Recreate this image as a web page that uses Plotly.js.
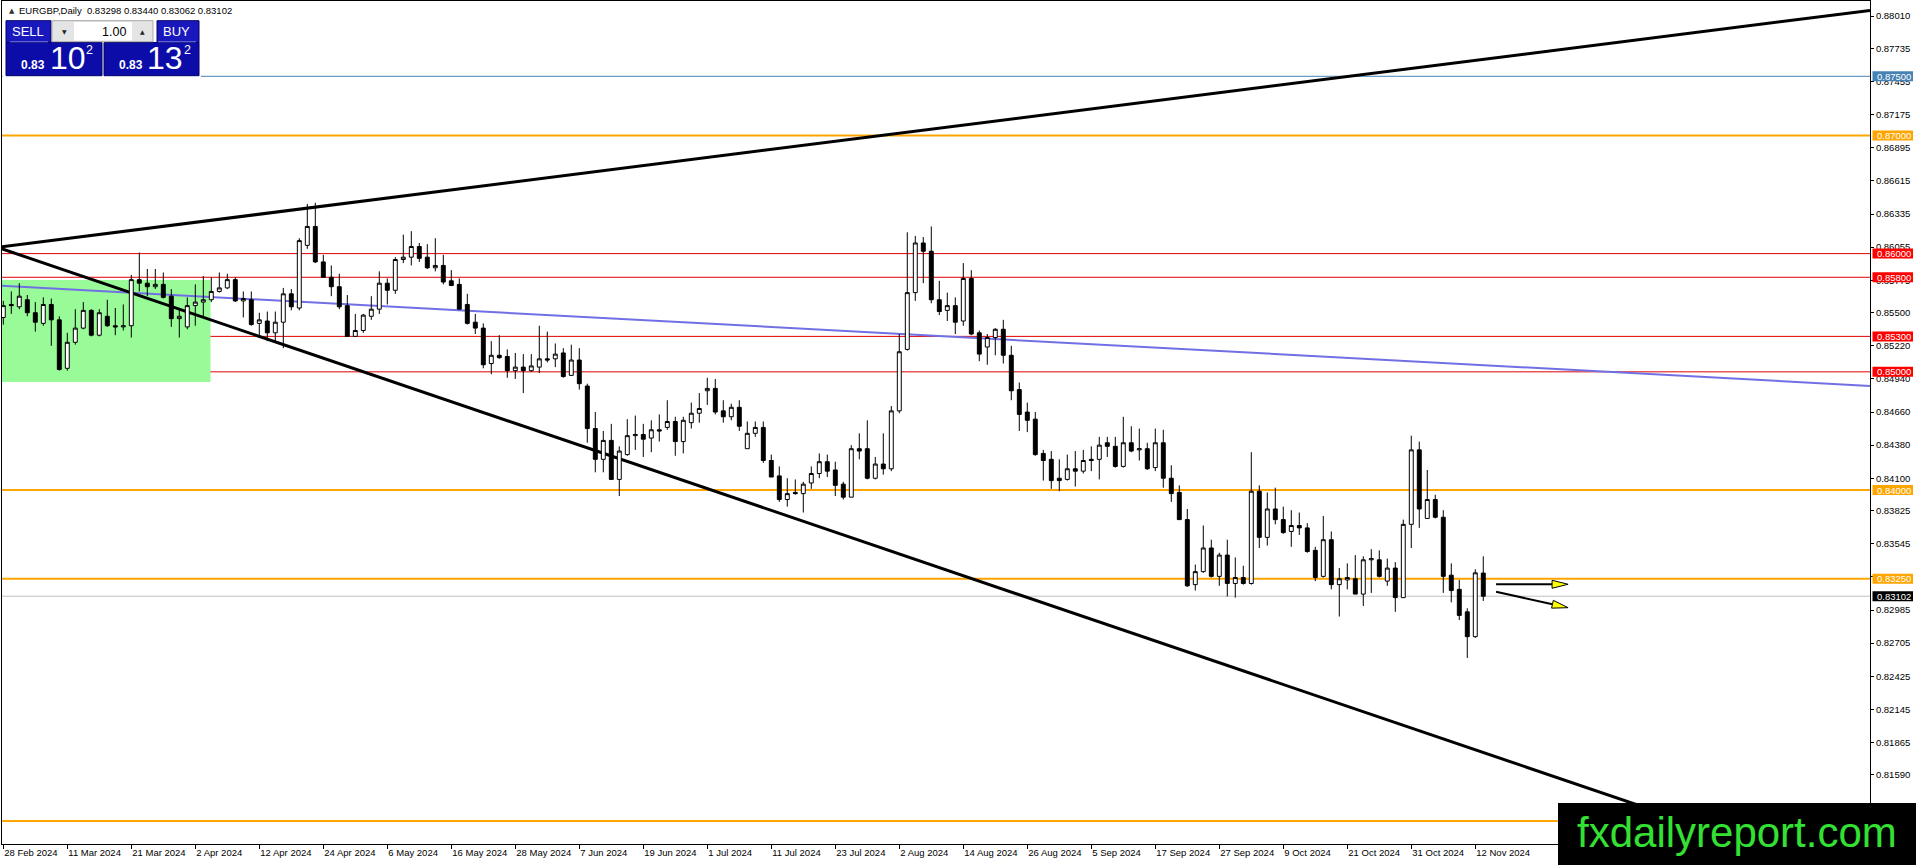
<!DOCTYPE html>
<html>
<head>
<meta charset="utf-8">
<script src="https://cdn.plot.ly/plotly-3.0.1.min.js"></script>
<style>html,body{margin:0;padding:0;background:#fff;overflow:hidden}</style>
</head>
<body>
<div id="chart" style="width:1916px;height:865px"></div>
<script>
// ---------------- data ----------------
const symbolTitle = 'EURGBP,Daily';
const lastOHLC = [0.83298, 0.83440, 0.83062, 0.83102];
const tickLabels = ['28 Feb 2024','11 Mar 2024','21 Mar 2024','2 Apr 2024','12 Apr 2024','24 Apr 2024','6 May 2024','16 May 2024','28 May 2024','7 Jun 2024','19 Jun 2024','1 Jul 2024','11 Jul 2024','23 Jul 2024','2 Aug 2024','14 Aug 2024','26 Aug 2024','5 Sep 2024','17 Sep 2024','27 Sep 2024','9 Oct 2024','21 Oct 2024','31 Oct 2024','12 Nov 2024'];
const barsPerLabel = 8;

const openP = [0.8546,0.8557,0.8555,0.8561,0.8550,0.8541,0.8557,0.8544,0.8503,0.8525,
0.8537,0.8552,0.8531,0.8547,0.8539,0.8538,0.8539,0.8578,0.8575,0.8572,
0.8574,0.8564,0.8545,0.8538,0.8556,0.8559,0.8561,0.8568,0.8571,0.8578,
0.8560,0.8561,0.8541,0.8543,0.8533,0.8542,0.8566,0.8554,0.8607,0.8623,
0.8593,0.8580,0.8572,0.8556,0.8530,0.8535,0.8547,0.8553,0.8575,0.8569,
0.8595,0.8597,0.8606,0.8597,0.8588,0.8590,0.8577,0.8574,0.8557,0.8542,
0.8537,0.8507,0.8514,0.8513,0.8501,0.8504,0.8501,0.8504,0.8511,0.8511,
0.8516,0.8497,0.8510,0.8488,0.8452,0.8426,0.8442,0.8409,0.8430,0.8446,
0.8447,0.8444,0.8451,0.8453,0.8458,0.8441,0.8457,0.8465,0.8484,0.8486,
0.8467,0.8462,0.8470,0.8435,0.8448,0.8453,0.8425,0.8412,0.8392,0.8398,
0.8397,0.8406,0.8414,0.8424,0.8417,0.8405,0.8394,0.8435,0.8435,0.8410,
0.8422,0.8418,0.8467,0.8519,0.8567,0.8609,0.8602,0.8561,0.8552,0.8556,
0.8543,0.8579,0.8533,0.8521,0.8529,0.8536,0.8514,0.8485,0.8466,0.8460,
0.8431,0.8426,0.8410,0.8409,0.8418,0.8416,0.8426,0.8426,0.8440,0.8437,
0.8420,0.8440,0.8434,0.8435,0.8419,0.8440,0.8410,0.8398,0.8375,0.8320,
0.8331,0.8351,0.8327,0.8345,0.8321,0.8326,0.8321,0.8399,0.8360,0.8384,
0.8375,0.8365,0.8370,0.8368,0.8349,0.8327,0.8358,0.8320,0.8324,0.8325,
0.8312,0.8341,0.8341,0.8323,0.8334,0.8309,0.8371,0.8434,0.8376,0.8392,
0.8377,0.8328,0.8316,0.8297,0.8276,0.83298];

const highP = [0.8560,0.8568,0.8575,0.8565,0.8559,0.8563,0.8562,0.8547,0.8533,0.8553,
0.8559,0.8553,0.8553,0.8561,0.8554,0.8557,0.8582,0.8601,0.8587,0.8587,
0.8584,0.8570,0.8554,0.8563,0.8574,0.8581,0.8580,0.8584,0.8583,0.8580,
0.8568,0.8568,0.8550,0.8551,0.8551,0.8571,0.8570,0.8613,0.8642,0.8643,
0.8599,0.8590,0.8583,0.8565,0.8549,0.8549,0.8564,0.8585,0.8579,0.8597,
0.8616,0.8619,0.8609,0.8608,0.8613,0.8599,0.8586,0.8579,0.8566,0.8549,
0.8541,0.8526,0.8531,0.8519,0.8516,0.8515,0.8515,0.8539,0.8534,0.8524,
0.8520,0.8523,0.8520,0.8490,0.8466,0.8450,0.8456,0.8437,0.8460,0.8463,
0.8456,0.8459,0.8464,0.8476,0.8462,0.8462,0.8474,0.8482,0.8495,0.8494,
0.8476,0.8473,0.8476,0.8458,0.8458,0.8458,0.8430,0.8420,0.8410,0.8409,
0.8407,0.8420,0.8431,0.8430,0.8424,0.8407,0.8438,0.8448,0.8459,0.8428,
0.8448,0.8471,0.8532,0.8618,0.8615,0.8614,0.8623,0.8577,0.8567,0.8563,
0.8592,0.8586,0.8535,0.8532,0.8537,0.8544,0.8522,0.8491,0.8474,0.8466,
0.8434,0.8433,0.8426,0.8430,0.8433,0.8434,0.8437,0.8445,0.8445,0.8445,
0.8462,0.8454,0.8452,0.8440,0.8452,0.8451,0.8421,0.8404,0.8384,0.8337,
0.8370,0.8358,0.8347,0.8358,0.8343,0.8336,0.8432,0.8404,0.8398,0.8402,
0.8386,0.8383,0.8381,0.8372,0.8352,0.8378,0.8365,0.8334,0.8338,0.8345,
0.8344,0.8350,0.8349,0.8342,0.8339,0.8375,0.8446,0.8441,0.8417,0.8396,
0.8383,0.8338,0.8324,0.8300,0.8333,0.83440];

const lowP = [0.8540,0.8549,0.8553,0.8547,0.8534,0.8539,0.8522,0.8501,0.8501,0.8523,
0.8536,0.8530,0.8530,0.8538,0.8531,0.8535,0.8529,0.8568,0.8564,0.8570,
0.8562,0.8538,0.8529,0.8536,0.8539,0.8546,0.8559,0.8567,0.8570,0.8559,
0.8546,0.8539,0.8529,0.8526,0.8526,0.8520,0.8552,0.8552,0.8604,0.8592,
0.8580,0.8564,0.8553,0.8530,0.8530,0.8533,0.8544,0.8549,0.8557,0.8566,
0.8592,0.8590,0.8593,0.8587,0.8585,0.8574,0.8573,0.8553,0.8540,0.8532,
0.8503,0.8498,0.8511,0.8495,0.8494,0.8482,0.8500,0.8499,0.8508,0.8504,
0.8495,0.8497,0.8485,0.8440,0.8415,0.8415,0.8409,0.8395,0.8429,0.8434,
0.8428,0.8432,0.8441,0.8451,0.8429,0.8431,0.8452,0.8457,0.8472,0.8464,
0.8457,0.8459,0.8450,0.8435,0.8445,0.8423,0.8411,0.8390,0.8386,0.8396,
0.8381,0.8401,0.8410,0.8411,0.8395,0.8392,0.8394,0.8426,0.8409,0.8409,
0.8413,0.8416,0.8465,0.8518,0.8560,0.8575,0.8558,0.8548,0.8543,0.8532,
0.8539,0.8531,0.8509,0.8506,0.8514,0.8507,0.8476,0.8450,0.8449,0.8429,
0.8408,0.8401,0.8399,0.8408,0.8403,0.8414,0.8416,0.8409,0.8428,0.8419,
0.8419,0.8432,0.8425,0.8417,0.8416,0.8402,0.8390,0.8375,0.8318,0.8315,
0.8330,0.8326,0.8319,0.8310,0.8309,0.8320,0.8320,0.8351,0.8353,0.8371,
0.8363,0.8352,0.8362,0.8347,0.8323,0.8326,0.8316,0.8293,0.8316,0.8312,
0.8302,0.8313,0.8326,0.8319,0.8297,0.8309,0.8351,0.8368,0.8376,0.8376,
0.8313,0.8305,0.8290,0.8258,0.8275,0.83062];

const closeP = [0.8556,0.8556,0.8564,0.8550,0.8542,0.8557,0.8544,0.8502,0.8525,0.8537,
0.8552,0.8531,0.8550,0.8539,0.8538,0.8539,0.8578,0.8575,0.8572,0.8574,
0.8563,0.8545,0.8547,0.8556,0.8559,0.8561,0.8568,0.8571,0.8578,0.8560,
0.8562,0.8540,0.8544,0.8533,0.8542,0.8566,0.8555,0.8611,0.8623,0.8593,
0.8580,0.8572,0.8555,0.8530,0.8535,0.8548,0.8553,0.8575,0.8569,0.8595,
0.8597,0.8606,0.8596,0.8588,0.8590,0.8576,0.8573,0.8553,0.8541,0.8537,
0.8506,0.8514,0.8512,0.8501,0.8504,0.8501,0.8505,0.8511,0.8510,0.8515,
0.8496,0.8510,0.8490,0.8452,0.8426,0.8442,0.8409,0.8433,0.8446,0.8447,
0.8443,0.8451,0.8450,0.8458,0.8441,0.8459,0.8465,0.8469,0.8486,0.8466,
0.8462,0.8470,0.8454,0.8448,0.8453,0.8425,0.8411,0.8392,0.8397,0.8397,
0.8405,0.8414,0.8424,0.8416,0.8404,0.8394,0.8435,0.8433,0.8410,0.8422,
0.8418,0.8467,0.8517,0.8567,0.8609,0.8602,0.8561,0.8551,0.8556,0.8542,
0.8579,0.8532,0.8515,0.8529,0.8536,0.8514,0.8484,0.8464,0.8459,0.8430,
0.8425,0.8408,0.8408,0.8418,0.8416,0.8425,0.8425,0.8438,0.8437,0.8420,
0.8440,0.8433,0.8435,0.8418,0.8440,0.8410,0.8397,0.8375,0.8319,0.8331,
0.8351,0.8327,0.8345,0.8321,0.8326,0.8321,0.8399,0.8360,0.8384,0.8375,
0.8364,0.8370,0.8368,0.8348,0.8326,0.8358,0.8320,0.8325,0.8326,0.8312,
0.8341,0.8342,0.8327,0.8334,0.8309,0.8371,0.8434,0.8384,0.8392,0.8377,
0.8327,0.8315,0.8294,0.8276,0.8330,0.83102];

const priceTicks = [0.88010,0.87735,0.87455,0.87175,0.86895,0.86615,0.86335,0.86055,0.85775,0.85500,0.85220,0.84940,0.84660,0.84380,0.84100,0.83825,0.83545,0.83265,0.82985,0.82705,0.82425,0.82145,0.81865,0.81590];

// horizontal levels
const levelPrices = [0.8750, 0.8700, 0.8600, 0.8580, 0.8530, 0.8500, 0.8400, 0.8325, 0.8120];
const levelKinds  = ['blue','orange','red','red','red','red','orange','orange','orange'];
const levelLabelShown = [true, true, true, true, true, true, true, true, false]; // last one sits under the watermark
const bidPrice = 0.83102;

// trend lines (bar index, price) at chart edges
const upperTrendBars = [-0.41, 233.34];
const upperTrendPrices = [0.86056, 0.88057];
const lowerTrendBars = [-0.41, 233.34];
const lowerTrendPrices = [0.86046, 0.80668];
const blueTrendBars = [-0.41, 233.34];
const blueTrendPrices = [0.85729, 0.84881];

// green zone
const zoneBars = [-1, 25.9];
const zonePrices = [0.84914, 0.85777];

// arrows
const arrowBar0 = [186.6, 186.6];
const arrowBar1 = [195.6, 195.6];
const arrowPrice0 = [0.83203, 0.83140];
const arrowPrice1 = [0.83203, 0.83005];

// ---------------- layout ----------------
const W = 1916, H = 865;
const mL = 2, mR = 46, mT = 1, mB = 21;
const plotW = W - mL - mR, plotH = H - mT - mB;
const xMin = -0.1625, xMax = 233.34;
const yMin = 0.810061, yMax = 0.881369;
const px = x => (x - mL) / plotW;          // pixel -> paper x
const py = y => 1 - (y - mT) / plotH;      // pixel -> paper y
const pp = p => (p - yMin) / (yMax - yMin); // price -> paper y
const pxPerBar = plotW / (xMax - xMin);
const pxPerPrice = plotH / (yMax - yMin);

const FONT = 'Liberation Sans, Arial, sans-serif';
const NARROW = 'Liberation Sans Narrow, Liberation Sans, Arial, sans-serif';
const colors = {blue:'#4682B4', orange:'#FFA500', red:'#E00000'};
const boxColors = {blue:'#4682B4', orange:'#FFA500', red:'#FF0000'};

const bars = openP.map((_, i) => i);

const shapes = [];
const annotations = [];

// green zone
shapes.push({type:'rect', xref:'x', yref:'y', x0:zoneBars[0], x1:zoneBars[1], y0:zonePrices[0], y1:zonePrices[1],
  fillcolor:'#98FB98', line:{width:0}, layer:'below'});

// horizontal levels
levelPrices.forEach((p, k) => {
  const kind = levelKinds[k];
  shapes.push({type:'line', xref:'paper', yref:'y', x0:0, x1:1, y0:p, y1:p, layer:'below',
    line:{color:colors[kind], width: kind === 'orange' ? 2 : 1}});
});
// bid line
shapes.push({type:'line', xref:'paper', yref:'y', x0:0, x1:1, y0:bidPrice, y1:bidPrice, layer:'below',
  line:{color:'#C0C0C0', width:1}});

// trend lines
shapes.push({type:'line', xref:'x', yref:'y', x0:blueTrendBars[0], x1:blueTrendBars[1], y0:blueTrendPrices[0], y1:blueTrendPrices[1],
  layer:'below', line:{color:'#7070E4', width:2}});
shapes.push({type:'line', xref:'x', yref:'y', x0:upperTrendBars[0], x1:upperTrendBars[1], y0:upperTrendPrices[0], y1:upperTrendPrices[1],
  layer:'below', line:{color:'#000', width:3}});
shapes.push({type:'line', xref:'x', yref:'y', x0:lowerTrendBars[0], x1:lowerTrendBars[1], y0:lowerTrendPrices[0], y1:lowerTrendPrices[1],
  layer:'below', line:{color:'#000', width:3}});

// arrows
function arrowParts(b0, p0, b1, p1) {
  const dx = (b1 - b0) * pxPerBar, dy = -(p1 - p0) * pxPerPrice;
  const len = Math.hypot(dx, dy), ux = dx / len, uy = dy / len;
  const L = 16, Wd = 4;
  const bx = -ux * L, by = -uy * L, nx = -uy, ny = ux;
  const toData = (ox, oy) => [b1 + ox / pxPerBar, p1 - oy / pxPerPrice];
  const tri = [[0,0],[bx + nx*Wd, by + ny*Wd],[bx - nx*Wd, by - ny*Wd]].map(([a,b]) => toData(a,b));
  const base = toData(bx, by);
  return {tri, base};
}
for (let k = 0; k < arrowBar0.length; k++) {
  const {tri, base} = arrowParts(arrowBar0[k], arrowPrice0[k], arrowBar1[k], arrowPrice1[k]);
  shapes.push({type:'line', xref:'x', yref:'y', x0:arrowBar0[k], y0:arrowPrice0[k], x1:base[0], y1:base[1],
    layer:'above', line:{color:'#000', width:2}});
  shapes.push({type:'path', xref:'x', yref:'y', layer:'above',
    path:'M' + tri.map(t => t[0] + ',' + t[1]).join(' L') + ' Z',
    fillcolor:'#FFFF00', line:{color:'#000', width:1}});
}

// right-side price label boxes
const boxLabels = [];
levelPrices.forEach((p, k) => { if (levelLabelShown[k]) boxLabels.push({p, bg: boxColors[levelKinds[k]]}); });
boxLabels.push({p: bidPrice, bg:'#000'});
boxLabels.forEach(b => {
  const yc = pp(b.p);
  const h = 5 / plotH;
  shapes.push({type:'rect', xref:'paper', yref:'paper', x0:px(1872.5), x1:px(1913), y0:yc - h, y1:yc + h,
    fillcolor:b.bg, line:{width:0}, layer:'above'});
  annotations.push({xref:'paper', yref:'paper', x:px(1875), y:yc, xanchor:'left', yanchor:'middle',
    text:b.p.toFixed(5), showarrow:false, font:{family:FONT, size:9.5, color:'#fff'}});
});

// trading panel
shapes.push({type:'rect', xref:'paper', yref:'paper', x0:px(2.5), x1:px(201), y0:py(79), y1:py(18),
  fillcolor:'#fff', line:{width:0}, layer:'above'});
const panelBlue = '#1818BC', panelBlueDark = '#0C0CA8', panelEdge = '#00006A';
[[6,51,20.7,42.5],[157,199,20.7,42.5]].forEach(r => shapes.push({type:'rect', xref:'paper', yref:'paper',
  x0:px(r[0]), x1:px(r[1]), y0:py(r[3]), y1:py(r[2]), fillcolor:panelBlue, line:{color:panelEdge, width:1}, layer:'above'}));
[[6,102,42.5,75.7],[104,199,42.5,75.7]].forEach(r => shapes.push({type:'rect', xref:'paper', yref:'paper',
  x0:px(r[0]), x1:px(r[1]), y0:py(r[3]), y1:py(r[2]), fillcolor:panelBlueDark, line:{color:panelEdge, width:1}, layer:'above'}));
// separators under SELL / BUY
[[10,48],[158,196]].forEach(r => shapes.push({type:'line', xref:'paper', yref:'paper', x0:px(r[0]), x1:px(r[1]),
  y0:py(41.8), y1:py(41.8), line:{color:'#7C7CE0', width:1}, layer:'above'}));
// spinner
shapes.push({type:'rect', xref:'paper', yref:'paper', x0:px(52), x1:px(153), y0:py(41.7), y1:py(20.7),
  fillcolor:'#E4E4E4', line:{color:'#A8A8A8', width:1}, layer:'above'});
shapes.push({type:'rect', xref:'paper', yref:'paper', x0:px(74), x1:px(132), y0:py(40.5), y1:py(22),
  fillcolor:'#fff', line:{width:0}, layer:'above'});

function ann(text, x, y, size, color, anchor, family, extra) {
  annotations.push(Object.assign({xref:'paper', yref:'paper', x:px(x), y:py(y), xanchor:anchor || 'left', yanchor:'middle',
    text, showarrow:false, font:{family: family || FONT, size, color}}, extra || {}));
}
ann('SELL', 28, 31.5, 13, '#fff', 'center', NARROW);
ann('BUY', 176, 31.5, 13, '#fff', 'center', NARROW);
ann('1.00', 128, 31.5, 12.5, '#000', 'right', FONT);
ann('▼', 64, 31.5, 6, '#222', 'center', 'DejaVu Sans');
ann('▲', 142, 31.5, 6, '#222', 'center', 'DejaVu Sans');
const bidStr = lastOHLC[3].toFixed(5);
const askStr = (lastOHLC[3] + 0.00030).toFixed(5);
ann('<b>' + bidStr.slice(0, 4) + '</b>', 19, 64.5, 12, '#fff', 'left', FONT);
ann(bidStr.slice(4, 6), 48, 58, 32, '#fff', 'left', NARROW);
ann(bidStr.slice(6), 84, 50, 12.5, '#fff', 'left', NARROW);
ann('<b>' + askStr.slice(0, 4) + '</b>', 117, 64.5, 12, '#fff', 'left', FONT);
ann(askStr.slice(4, 6), 145, 58, 32, '#fff', 'left', NARROW);
ann(askStr.slice(6), 182, 50, 12.5, '#fff', 'left', NARROW);

// header
ann('▲', 7, 10.5, 7, '#333', 'left', 'DejaVu Sans');
ann(symbolTitle + '  ' + lastOHLC.map(v => v.toFixed(5)).join(' '), 17, 10.5, 9.5, '#000', 'left', FONT);

// watermark
shapes.push({type:'rect', xref:'paper', yref:'paper', x0:px(1558), x1:px(1917), y0:py(866), y1:py(803),
  fillcolor:'#000', line:{width:0}, layer:'above'});
ann('fxdailyreport.com', 1737, 832, 42, '#33E033', 'center', FONT);

const trace = {
  type:'candlestick', x:bars, open:openP, high:highP, low:lowP, close:closeP,
  increasing:{line:{color:'#000', width:1}, fillcolor:'#fff'},
  decreasing:{line:{color:'#000', width:1}, fillcolor:'#000'},
  whiskerwidth:0, hoverinfo:'skip', showlegend:false
};

const layout = {
  width:W, height:H, margin:{l:mL, r:mR, t:mT, b:mB, pad:0},
  paper_bgcolor:'#fff', plot_bgcolor:'#fff', showlegend:false,
  xaxis:{range:[xMin, xMax], rangeslider:{visible:false}, showgrid:false, zeroline:false,
    tickmode:'array', tickvals:tickLabels.map((_, k) => k * barsPerLabel), ticktext:tickLabels,
    ticks:'outside', ticklen:4, tickcolor:'#000', ticklabelposition:'outside right',
    showline:true, linecolor:'#000', linewidth:1, mirror:true,
    tickfont:{family:FONT, size:9.5, color:'#000'}, fixedrange:true},
  yaxis:{range:[yMin, yMax], side:'right', showgrid:false, zeroline:false,
    tickmode:'array', tickvals:priceTicks, ticktext:priceTicks.map(v => v.toFixed(5)),
    ticks:'outside', ticklen:3, tickcolor:'#000',
    showline:true, linecolor:'#000', linewidth:1, mirror:true,
    tickfont:{family:FONT, size:9.5, color:'#000'}, fixedrange:true},
  shapes, annotations
};

Plotly.newPlot('chart', [trace], layout, {displayModeBar:false, staticPlot:true});
</script>
</body>
</html>
